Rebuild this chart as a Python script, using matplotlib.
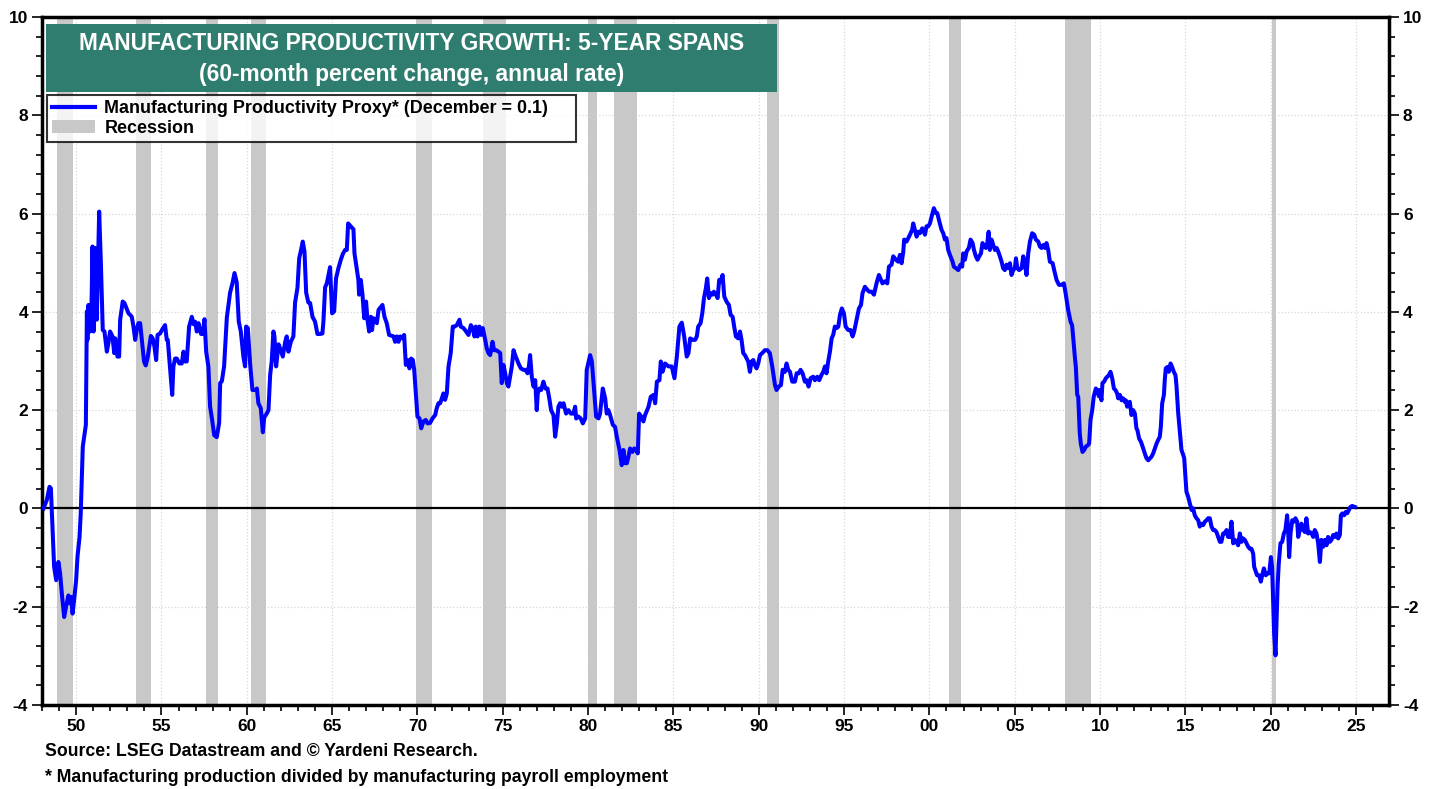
import matplotlib.pyplot as plt
from matplotlib.patches import Rectangle, Patch
from matplotlib.lines import Line2D
from matplotlib.ticker import MultipleLocator, FuncFormatter

plt.rcParams['font.family'] = ['Liberation Sans', 'DejaVu Sans']
plt.rcParams['font.weight'] = 'bold'
plt.rcParams['axes.unicode_minus'] = False

# 60-month % change, annual rate
years_1948 = [
    1948.09, 1948.28, 1948.44, 1948.52, 1948.57, 1948.71, 1948.83, 1948.96, 1949.06, 1949.18,
    1949.30, 1949.41, 1949.55, 1949.65, 1949.71, 1949.79, 1949.88, 1950.00, 1950.08, 1950.20,
    1950.27, 1950.39, 1950.47, 1950.57, 1950.63, 1950.66, 1950.72, 1950.82, 1950.90, 1950.96,
    1951.02, 1951.11, 1951.21, 1951.35, 1951.45, 1951.56, 1951.66, 1951.80, 1951.89, 1951.99,
    1952.13, 1952.23, 1952.29, 1952.42, 1952.52, 1952.58, 1952.73, 1952.83, 1953.07, 1953.16,
    1953.26, 1953.36, 1953.46, 1953.55, 1953.65, 1953.75, 1953.85, 1953.98, 1954.08, 1954.20,
    1954.38, 1954.49, 1954.59, 1954.69, 1954.77, 1954.92, 1955.06, 1955.21, 1955.31, 1955.37,
    1955.51, 1955.63, 1955.70, 1955.80, 1955.90, 1956.05, 1956.19, 1956.29, 1956.39, 1956.48,
    1956.62, 1956.78, 1956.88, 1956.97, 1957.07, 1957.17, 1957.32, 1957.42, 1957.52, 1957.62,
    1957.75, 1957.85, 1957.97, 1958.09, 1958.24, 1958.38, 1958.44, 1958.54, 1958.67, 1958.83,
    1959.02, 1959.16, 1959.28, 1959.41, 1959.53, 1959.65, 1959.80, 1959.90, 1959.96, 1960.06,
    1960.20, 1960.33, 1960.49, 1960.59, 1960.68, 1960.82, 1960.94, 1961.02, 1961.17, 1961.27,
    1961.37, 1961.46, 1961.56, 1961.62, 1961.72, 1961.86, 1961.95, 1962.11, 1962.25, 1962.34,
    1962.44, 1962.58, 1962.73, 1962.83, 1962.97, 1963.07, 1963.18, 1963.28, 1963.38, 1963.48,
    1963.61, 1963.71, 1963.85, 1964.00, 1964.14, 1964.30, 1964.43, 1964.49, 1964.59, 1964.69,
    1964.88, 1965.00, 1965.12, 1965.23, 1965.37, 1965.51, 1965.63, 1965.76, 1965.86, 1965.94,
]
vals_1948 = [
    0.00, 0.17, 0.44, 0.41, 0.00, -1.19, -1.46, -1.09, -1.32, -1.80,
    -2.21, -2.00, -1.77, -1.93, -1.80, -2.14, -1.87, -1.46, -0.98, -0.58,
    -0.10, 1.26, 1.46, 1.70, 4.01, 3.43, 4.14, 3.60, 4.11, 5.33,
    3.60, 5.30, 3.84, 6.04, 4.99, 3.63, 3.60, 3.19, 3.36, 3.60,
    3.50, 3.16, 3.46, 3.09, 3.09, 3.84, 4.21, 4.18, 3.97, 3.94,
    3.90, 3.70, 3.43, 3.63, 3.77, 3.77, 3.43, 2.99, 2.91, 3.09,
    3.51, 3.46, 3.29, 3.02, 3.53, 3.56, 3.65, 3.73, 3.43, 3.43,
    2.82, 2.31, 2.89, 3.05, 3.05, 2.95, 2.95, 3.19, 2.99, 2.99,
    3.70, 3.90, 3.75, 3.80, 3.60, 3.77, 3.55, 3.55, 3.85, 3.19,
    2.89, 2.07, 1.80, 1.49, 1.45, 1.74, 2.55, 2.59, 2.89, 3.88,
    4.39, 4.58, 4.79, 4.60, 3.80, 3.60, 3.09, 2.89, 3.70, 3.67,
    2.92, 2.41, 2.41, 2.44, 2.14, 2.04, 1.55, 1.85, 1.93, 2.00,
    2.72, 2.99, 3.60, 3.50, 2.89, 3.34, 3.26, 3.09, 3.39, 3.50,
    3.19, 3.39, 3.50, 4.19, 4.49, 5.09, 5.26, 5.43, 5.23, 4.39,
    4.19, 4.18, 3.90, 3.80, 3.55, 3.55, 3.56, 3.80, 4.50, 4.58,
    4.91, 3.97, 4.01, 4.68, 4.89, 5.06, 5.18, 5.26, 5.26, 5.80,
]

years_1966 = [
    1966.09, 1966.25, 1966.31, 1966.54, 1966.58, 1966.68, 1966.78, 1966.88, 1966.99, 1967.07,
    1967.17, 1967.27, 1967.34, 1967.42, 1967.54, 1967.62, 1967.72, 1967.95, 1968.07, 1968.20,
    1968.34, 1968.60, 1968.69, 1968.79, 1968.89, 1968.99, 1969.08, 1969.22, 1969.32, 1969.43,
    1969.53, 1969.63, 1969.73, 1969.81, 1969.92, 1970.00, 1970.12, 1970.22, 1970.35, 1970.49,
    1970.59, 1970.74, 1970.88, 1971.04, 1971.13, 1971.23, 1971.33, 1971.43, 1971.52, 1971.62,
    1971.72, 1971.82, 1971.95, 1972.07, 1972.17, 1972.31, 1972.46, 1972.54, 1972.70, 1972.85,
    1972.99, 1973.13, 1973.24, 1973.34, 1973.42, 1973.52, 1973.63, 1973.73, 1973.83, 1973.97,
    1974.06, 1974.16, 1974.26, 1974.40, 1974.49, 1974.61, 1974.75, 1974.85, 1974.94, 1975.04,
    1975.14, 1975.24, 1975.33, 1975.43, 1975.53, 1975.63, 1975.76, 1975.92, 1976.06, 1976.21,
    1976.33, 1976.45, 1976.54, 1976.60, 1976.70, 1976.80, 1976.90, 1976.99, 1977.05, 1977.15,
    1977.25, 1977.38, 1977.50, 1977.62, 1977.74, 1977.83, 1977.97, 1978.07, 1978.17, 1978.26,
    1978.36, 1978.46, 1978.56, 1978.71, 1978.85, 1978.99, 1979.14, 1979.24, 1979.30, 1979.43,
    1979.57, 1979.69, 1979.83, 1979.92, 1980.12, 1980.22, 1980.35, 1980.47, 1980.61, 1980.70,
    1980.86, 1981.00, 1981.09, 1981.19, 1981.29, 1981.45, 1981.58, 1981.68, 1981.84, 1981.97,
    1982.07, 1982.17, 1982.27, 1982.36, 1982.46, 1982.60, 1982.70, 1982.81, 1982.91, 1982.99,
    1983.11, 1983.24, 1983.34, 1983.54, 1983.67, 1983.83, 1983.93, 1984.03, 1984.18, 1984.26,
    1984.36, 1984.51, 1984.71, 1984.90, 1985.06, 1985.20, 1985.35, 1985.49, 1985.63, 1985.78,
    1985.88, 1985.98, 1986.13, 1986.27, 1986.37,
]
vals_1966 = [
    5.74, 5.68, 5.19, 4.65, 4.35, 4.65, 4.35, 3.87, 4.21, 3.84,
    3.60, 3.90, 3.63, 3.87, 3.84, 3.77, 4.04, 4.14, 3.90, 3.77,
    3.53, 3.50, 3.39, 3.50, 3.39, 3.50, 3.46, 3.53, 2.92, 3.02,
    2.85, 3.05, 3.02, 2.82, 2.27, 1.87, 1.83, 1.63, 1.77, 1.80,
    1.73, 1.74, 1.83, 1.90, 2.04, 2.14, 2.14, 2.24, 2.34, 2.21,
    2.34, 2.89, 3.16, 3.70, 3.70, 3.73, 3.84, 3.70, 3.67, 3.60,
    3.53, 3.73, 3.67, 3.50, 3.70, 3.50, 3.70, 3.53, 3.67, 3.43,
    3.26, 3.16, 3.12, 3.39, 3.22, 3.22, 3.19, 3.16, 2.55, 2.92,
    2.75, 2.55, 2.48, 2.68, 2.89, 3.22, 3.09, 2.95, 2.85, 2.82,
    2.82, 2.75, 2.92, 3.12, 2.68, 2.48, 2.61, 2.00, 2.34, 2.44,
    2.41, 2.58, 2.44, 2.44, 2.21, 2.00, 1.90, 1.46, 1.73, 2.07,
    2.14, 2.07, 2.14, 1.93, 2.00, 1.93, 1.93, 2.07, 1.83, 1.87,
    1.83, 1.73, 1.83, 2.82, 3.12, 2.99, 2.41, 1.87, 1.83, 1.93,
    2.44, 2.24, 1.93, 2.00, 1.90, 1.70, 1.66, 1.46, 1.19, 0.88,
    1.19, 0.92, 0.92, 1.05, 1.22, 1.15, 1.22, 1.19, 1.12, 1.93,
    1.87, 1.77, 1.90, 2.07, 2.27, 2.31, 2.14, 2.58, 2.61, 2.99,
    2.78, 2.95, 2.89, 2.89, 2.65, 3.09, 3.70, 3.78, 3.50, 3.09,
    3.16, 3.46, 3.43, 3.43, 3.50,
]

years_1986 = [
    1986.45, 1986.59, 1986.69, 1986.79, 1986.90, 1986.98, 1987.08, 1987.18, 1987.29, 1987.37,
    1987.49, 1987.59, 1987.68, 1987.76, 1987.88, 1987.98, 1988.11, 1988.25, 1988.35, 1988.47,
    1988.56, 1988.66, 1988.80, 1988.90, 1988.99, 1989.09, 1989.19, 1989.29, 1989.38, 1989.48,
    1989.58, 1989.68, 1989.77, 1989.87, 1989.97, 1990.07, 1990.20, 1990.36, 1990.50, 1990.65,
    1990.79, 1990.95, 1991.04, 1991.18, 1991.30, 1991.40, 1991.53, 1991.63, 1991.73, 1991.83,
    1991.96, 1992.12, 1992.22, 1992.35, 1992.45, 1992.57, 1992.70, 1992.80, 1992.92, 1993.04,
    1993.19, 1993.29, 1993.43, 1993.54, 1993.68, 1993.78, 1993.88, 1993.97, 1994.07, 1994.17,
    1994.27, 1994.36, 1994.46, 1994.56, 1994.66, 1994.76, 1994.87, 1994.99, 1995.09, 1995.24,
    1995.38, 1995.50, 1995.59, 1995.73, 1995.87, 1995.99, 1996.08, 1996.22, 1996.36, 1996.47,
    1996.61, 1996.75, 1996.90, 1997.04, 1997.16, 1997.25, 1997.39, 1997.53, 1997.63, 1997.78,
    1997.88, 1998.04, 1998.17, 1998.27, 1998.37, 1998.47, 1998.52, 1998.66, 1998.76, 1998.86,
    1998.99, 1999.05, 1999.15, 1999.25, 1999.34, 1999.44, 1999.58, 1999.74, 1999.83, 1999.93,
    2000.03, 2000.13, 2000.26, 2000.38, 2000.46, 2000.58, 2000.71, 2000.81, 2000.91, 2001.00,
    2001.10, 2001.20, 2001.36, 2001.43, 2001.55, 2001.69, 2001.82, 2001.92, 2001.98, 2002.08,
    2002.18, 2002.31, 2002.41, 2002.53, 2002.61, 2002.72, 2002.82, 2002.92, 2003.02, 2003.11,
    2003.21, 2003.31, 2003.39, 2003.47, 2003.54, 2003.64, 2003.74, 2003.84, 2003.94, 2004.03,
    2004.13, 2004.23, 2004.32, 2004.42, 2004.52, 2004.62, 2004.72, 2004.81, 2004.91, 2005.01,
    2005.07, 2005.15, 2005.26, 2005.40, 2005.50, 2005.59, 2005.69, 2005.79, 2005.89, 2006.02,
    2006.14, 2006.24, 2006.38, 2006.47, 2006.57, 2006.67, 2006.77, 2006.86, 2006.96, 2007.06,
    2007.22, 2007.31, 2007.45, 2007.59, 2007.74, 2007.88, 2007.98, 2008.13,
]
vals_1986 = [
    3.70, 3.77, 3.97, 4.28, 4.48, 4.68, 4.28, 4.38, 4.35, 4.41,
    4.35, 4.28, 4.65, 4.62, 4.75, 4.31, 4.21, 4.14, 3.94, 3.90,
    3.70, 3.50, 3.46, 3.60, 3.43, 3.16, 3.12, 3.05, 2.99, 2.78,
    2.99, 3.02, 2.92, 2.85, 2.95, 3.12, 3.16, 3.22, 3.22, 3.16,
    2.89, 2.51, 2.41, 2.48, 2.51, 2.82, 2.78, 2.95, 2.82, 2.78,
    2.58, 2.58, 2.75, 2.75, 2.82, 2.75, 2.58, 2.61, 2.48, 2.65,
    2.68, 2.61, 2.68, 2.61, 2.72, 2.78, 2.89, 2.75, 2.99, 3.19,
    3.46, 3.53, 3.70, 3.67, 3.70, 3.94, 4.07, 3.97, 3.70, 3.63,
    3.63, 3.50, 3.60, 3.84, 4.07, 4.14, 4.38, 4.51, 4.45, 4.41,
    4.41, 4.35, 4.58, 4.75, 4.65, 4.58, 4.62, 4.58, 4.92, 4.96,
    5.13, 5.06, 5.02, 5.16, 4.99, 5.23, 5.47, 5.43, 5.50, 5.57,
    5.67, 5.80, 5.67, 5.53, 5.63, 5.60, 5.70, 5.57, 5.74, 5.74,
    5.80, 5.94, 6.11, 6.01, 6.01, 5.84, 5.67, 5.60, 5.47, 5.50,
    5.26, 5.16, 5.02, 4.92, 4.89, 4.85, 4.96, 4.92, 5.19, 5.06,
    5.23, 5.30, 5.47, 5.40, 5.26, 5.13, 5.06, 5.13, 5.19, 5.40,
    5.33, 5.30, 5.40, 5.63, 5.26, 5.47, 5.36, 5.26, 5.30, 5.23,
    5.13, 5.02, 4.89, 4.85, 4.96, 4.89, 4.99, 4.75, 4.85, 4.89,
    5.09, 4.89, 4.85, 4.89, 5.13, 4.99, 4.75, 5.19, 5.43, 5.60,
    5.57, 5.47, 5.43, 5.33, 5.30, 5.36, 5.30, 5.40, 5.26, 5.02,
    4.99, 4.85, 4.65, 4.55, 4.55, 4.58, 4.38, 4.04,
]

years_2008 = [
    2008.27, 2008.36, 2008.42, 2008.52, 2008.58, 2008.66, 2008.72, 2008.81, 2008.87, 2008.97,
    2009.07, 2009.17, 2009.30, 2009.36, 2009.44, 2009.54, 2009.63, 2009.75, 2009.83, 2009.93,
    2009.99, 2010.08, 2010.14, 2010.24, 2010.34, 2010.42, 2010.51, 2010.61, 2010.71, 2010.81,
    2010.90, 2011.00, 2011.06, 2011.16, 2011.26, 2011.35, 2011.45, 2011.51, 2011.59, 2011.65,
    2011.74, 2011.84, 2011.94, 2012.04, 2012.13, 2012.19, 2012.29, 2012.39, 2012.49, 2012.62,
    2012.72, 2012.82, 2012.92, 2013.01, 2013.11, 2013.21, 2013.31, 2013.40, 2013.50, 2013.56,
    2013.64, 2013.74, 2013.79, 2013.85, 2013.95, 2014.03, 2014.13, 2014.22, 2014.32, 2014.42,
    2014.48, 2014.58, 2014.67, 2014.77, 2014.87, 2014.93, 2015.01, 2015.06, 2015.16, 2015.26,
    2015.36, 2015.45, 2015.55, 2015.65, 2015.75, 2015.84, 2015.94, 2016.04, 2016.14, 2016.24,
    2016.33, 2016.43, 2016.53, 2016.63, 2016.72, 2016.82, 2016.92, 2017.02, 2017.11, 2017.21,
    2017.31, 2017.41, 2017.50, 2017.60, 2017.70, 2017.80, 2017.90, 2017.99, 2018.09, 2018.19,
    2018.29, 2018.38, 2018.48, 2018.58, 2018.68, 2018.77, 2018.87, 2018.97, 2019.03, 2019.13,
    2019.20, 2019.32, 2019.42, 2019.50, 2019.60, 2019.71, 2019.81, 2019.91, 2020.01, 2020.08,
    2020.14, 2020.20, 2020.28, 2020.34, 2020.40, 2020.47, 2020.57, 2020.67, 2020.77, 2020.86,
    2020.96, 2021.02, 2021.08, 2021.16, 2021.26, 2021.35, 2021.45, 2021.55, 2021.61, 2021.70,
    2021.80, 2021.90, 2022.00, 2022.09, 2022.19, 2022.29, 2022.39, 2022.49, 2022.58, 2022.68,
    2022.78, 2022.88, 2022.97, 2023.07, 2023.17, 2023.27, 2023.36, 2023.46, 2023.56, 2023.66,
    2023.76, 2023.85, 2023.95, 2024.05, 2024.11, 2024.20, 2024.30, 2024.40, 2024.48, 2024.58,
    2024.67, 2024.77, 2024.93,
]
vals_2008 = [
    3.80, 3.73, 3.50, 3.09, 2.88, 2.31, 2.27, 1.53, 1.32, 1.15,
    1.19, 1.26, 1.29, 1.32, 1.80, 2.00, 2.28, 2.44, 2.41, 2.28,
    2.41, 2.20, 2.55, 2.58, 2.65, 2.68, 2.71, 2.78, 2.65, 2.44,
    2.41, 2.34, 2.24, 2.31, 2.20, 2.24, 2.17, 2.20, 2.07, 2.14,
    2.17, 1.90, 2.00, 1.93, 1.63, 1.59, 1.42, 1.36, 1.26, 1.12,
    1.02, 0.98, 1.02, 1.05, 1.12, 1.22, 1.32, 1.39, 1.46, 1.66,
    2.14, 2.31, 2.61, 2.85, 2.88, 2.78, 2.95, 2.88, 2.78, 2.71,
    2.48, 1.93, 1.59, 1.19, 1.09, 1.02, 0.58, 0.34, 0.24, 0.10,
    -0.03, 0.00, -0.14, -0.20, -0.24, -0.37, -0.31, -0.34, -0.27, -0.24,
    -0.20, -0.20, -0.37, -0.44, -0.44, -0.48, -0.58, -0.68, -0.68, -0.51,
    -0.51, -0.44, -0.58, -0.58, -0.27, -0.71, -0.64, -0.68, -0.75, -0.51,
    -0.68, -0.61, -0.64, -0.71, -0.78, -0.82, -0.82, -0.92, -1.19, -1.29,
    -1.36, -1.36, -1.49, -1.36, -1.22, -1.36, -1.32, -1.32, -0.99, -1.19,
    -1.87, -2.55, -2.99, -2.28, -1.60, -1.12, -0.71, -0.68, -0.51, -0.44,
    -0.14, -0.44, -0.99, -0.51, -0.24, -0.27, -0.20, -0.27, -0.58, -0.44,
    -0.31, -0.44, -0.48, -0.20, -0.51, -0.48, -0.51, -0.58, -0.44, -0.51,
    -0.71, -1.09, -0.64, -0.78, -0.64, -0.75, -0.58, -0.68, -0.64, -0.54,
    -0.58, -0.51, -0.61, -0.54, -0.14, -0.10, -0.14, -0.07, -0.10, -0.03,
    0.03, 0.05, 0.03,
]

# NBER recessions (start, end) in decimal years
recessions = [
    (1948.87, 1949.79), (1953.50, 1954.37), (1957.60, 1958.30), (1960.25, 1961.10),
    (1969.92, 1970.87), (1973.83, 1975.20), (1980.00, 1980.50), (1981.50, 1982.87),
    (1990.50, 1991.20), (2001.17, 2001.87), (2007.92, 2009.45), (2020.08, 2020.30),
]

years = years_1948 + years_1966 + years_1986 + years_2008
values = vals_1948 + vals_1966 + vals_1986 + vals_2008

W, H = 1441, 789
fig = plt.figure(figsize=(W / 100, H / 100), dpi=100)
ax = fig.add_axes([42 / W, 1 - 705 / H, (1389 - 42) / W, (705 - 17) / H])

for start, end in recessions:
    ax.axvspan(start, end, color='#c8c8c8', lw=0, zorder=1)
ax.axhline(0, color='black', lw=1.6, zorder=2)
ax.plot(years, values, color='#0000ff', lw=2.9, zorder=3, solid_joinstyle='round')

ax.set_xlim(1948.0, 2026.93)
ax.set_ylim(-4, 10)
ax.xaxis.set_major_locator(MultipleLocator(5))
ax.xaxis.set_minor_locator(MultipleLocator(1))
ax.xaxis.set_major_formatter(FuncFormatter(lambda v, p: f'{int(round(v)) % 100:02d}'))
ax.yaxis.set_major_locator(MultipleLocator(2))
ax.yaxis.set_minor_locator(MultipleLocator(0.4))
ax.grid(which='major', color='#d8d8d8', ls=':', lw=0.9, zorder=0)
ax.set_axisbelow(True)

ax.tick_params(axis='y', which='both', left=True, right=True,
               labelleft=True, labelright=True, direction='out', width=1.2)
ax.tick_params(axis='x', which='both', direction='out', width=1.2)
ax.tick_params(which='major', length=7, labelsize=12.5, pad=3)
ax.tick_params(which='minor', length=4)
for s in ax.spines.values():
    s.set_linewidth(2.5)

# title box
fig.patches.append(Rectangle((46 / W, 1 - 92 / H), (777 - 46) / W, (92 - 24) / H,
                             transform=fig.transFigure, facecolor='#2e7d6f',
                             edgecolor='none', zorder=5))
cx = (46 + 777) / 2 / W
fig.text(cx, 1 - 43 / H, 'MANUFACTURING PRODUCTIVITY GROWTH: 5-YEAR SPANS',
         color='white', fontsize=16.4, ha='center', va='center', zorder=6)
fig.text(cx, 1 - 74 / H, '(60-month percent change, annual rate)',
         color='white', fontsize=16.4, ha='center', va='center', zorder=6)

handles = [Line2D([], [], color='#0000ff', lw=3),
           Patch(facecolor='#c8c8c8', edgecolor='none')]
labels = ['Manufacturing Productivity Proxy* (December = 0.1)', 'Recession']
leg = fig.legend(handles, labels, loc='upper left',
                 bbox_to_anchor=(47 / W, 1 - 95 / H, (576 - 47) / W, 0),
                 mode='expand', fontsize=12.9, frameon=True, fancybox=False,
                 borderpad=0.3, labelspacing=0.12, handlelength=2.4,
                 handletextpad=0.5, borderaxespad=0)
leg.get_frame().set_edgecolor('black')
leg.get_frame().set_linewidth(1.5)
leg.set_zorder(6)

fig.text(45 / W, 1 - 752 / H, 'Source: LSEG Datastream and \u00a9 Yardeni Research.',
         fontsize=12.7, ha='left', va='center')
fig.text(45 / W, 1 - 777 / H, '* Manufacturing production divided by manufacturing payroll employment',
         fontsize=12.7, ha='left', va='center')

fig.savefig('out.png', dpi=100)
